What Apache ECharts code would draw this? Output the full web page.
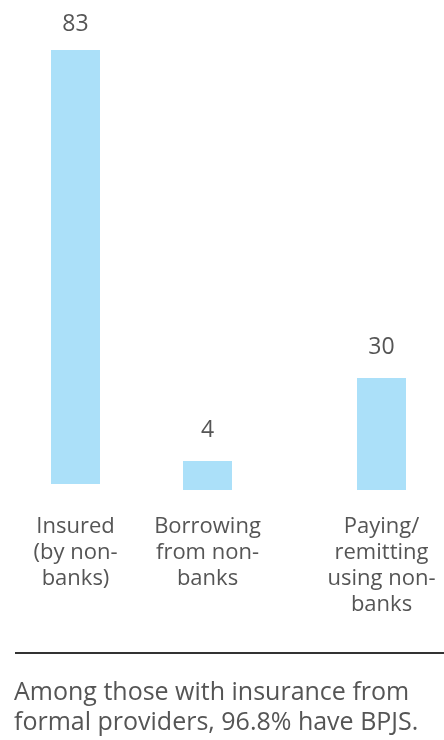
<!DOCTYPE html>
<html>
<head>
<meta charset="utf-8">
<script src="https://cdn.jsdelivr.net/npm/echarts@6/dist/echarts.min.js"></script>
<style>
  html, body { margin: 0; padding: 0; background: #fff; }
  #chart { width: 444px; height: 740px; }
</style>
</head>
<body>
<div id="chart"></div>
<script>
// each bar sits in its own little panel, like the original graphic
const categories = [
  'Insured\n(by non-\nbanks)',
  'Borrowing\nfrom non-\nbanks',
  'Paying/\nremitting\nusing non-\nbanks'
];
const values = [83, 4, 30];
const note = 'Among those with insurance from\nformal providers, 96.8% have BPJS.';

// panel layout: [center x, top, bottom offset, label margin, value label gap]
const panels = [
  [75.5, 50, 256, 30, 14],
  [207.5, 461, 250, 24, 19],
  [381.5, 378, 250, 24, 19]
];

const textColor = '#555';
const barColor = '#abe0f9';
const font = '"Open Sans", "Noto Sans", sans-serif';

const grids = [], xAxes = [], yAxes = [], series = [];
panels.forEach((p, i) => {
  grids.push({ left: p[0] - 60, width: 120, top: p[1], bottom: p[2] });
  xAxes.push({
    type: 'category',
    gridIndex: i,
    data: [categories[i]],
    axisLine: { show: false },
    axisTick: { show: false },
    axisLabel: {
      margin: p[3],
      color: textColor,
      fontFamily: font,
      fontSize: 22,
      lineHeight: 26,
      align: 'center'
    }
  });
  yAxes.push({
    type: 'value',
    gridIndex: i,
    min: 0,
    max: values[i],
    show: false,
    splitLine: { show: false }
  });
  series.push({
    type: 'bar',
    xAxisIndex: i,
    yAxisIndex: i,
    barWidth: 49,
    data: [values[i]],
    itemStyle: { color: barColor },
    label: {
      show: true,
      position: 'top',
      distance: p[4],
      color: textColor,
      fontFamily: font,
      fontSize: 23
    },
    silent: true
  });
});

const chart = echarts.init(document.getElementById('chart'), null, { renderer: 'canvas' });
chart.setOption({
  animation: false,
  backgroundColor: '#fff',
  grid: grids,
  xAxis: xAxes,
  yAxis: yAxes,
  series: series,
  title: {
    text: note,
    left: 14,
    top: 678,
    padding: 0,
    textStyle: {
      color: textColor,
      fontFamily: font,
      fontSize: 25,
      lineHeight: 30,
      fontWeight: 'normal'
    }
  },
  graphic: [{
    type: 'line',
    shape: { x1: 15, y1: 653, x2: 444, y2: 653 },
    style: { stroke: '#333', lineWidth: 2 },
    silent: true
  }]
});
</script>
</body>
</html>
